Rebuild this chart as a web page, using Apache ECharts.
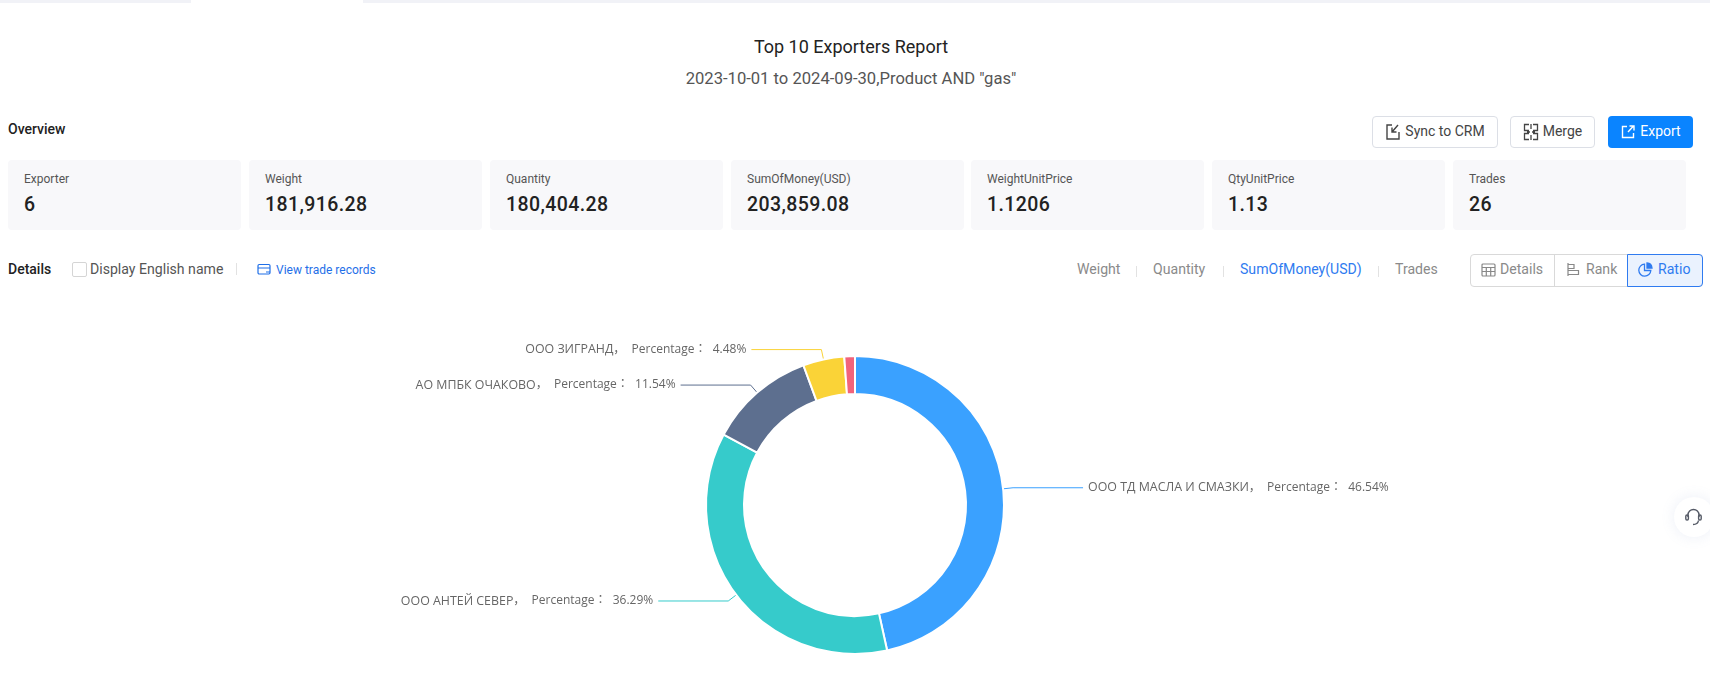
<!DOCTYPE html>
<html><head><meta charset="utf-8">
<script src="https://cdn.jsdelivr.net/npm/echarts@6/dist/echarts.min.js"></script>
<style>
html,body{margin:0;padding:0;background:#fff;width:1710px;height:676px;overflow:hidden;font-family:Roboto,sans-serif;color:#333}
.a{position:absolute;white-space:nowrap}
.v{transform:translateY(-50%)}
.card{position:absolute;top:160px;height:70px;width:233px;background:#f8f8fa;border-radius:4px}
.card .l{position:absolute;left:16px;top:11px;font-size:12px;color:#555;line-height:17px}
.card .n{position:absolute;left:16px;top:32px;font-size:19.5px;font-weight:500;color:#222;line-height:26px;letter-spacing:.4px}
.btn{position:absolute;top:116px;height:30px;border:1px solid #dcdfe6;border-radius:4px;background:#fff;font-size:14px;color:#444;display:flex;align-items:center;justify-content:center;gap:4px;box-sizing:content-box;line-height:14px;padding-bottom:0}
.btn span{position:relative;top:-1px}
.tab{font-size:14.1px;color:#8a8a8a}
.sep{position:absolute;width:1px;background:#e2e2e2}
svg{display:block}
</style></head><body>
<div class="a" style="left:0;top:0;width:1710px;height:2.5px;background:#f1f2f7"></div>
<div class="a" style="left:191px;top:0;width:172px;height:2.5px;background:#fff"></div>
<div class="a v" style="left:0;width:1702px;text-align:center;top:46px;font-size:18px;color:#222" id="ttl"></div>
<div class="a v" style="left:0;width:1702px;text-align:center;top:77.5px;font-size:16.6px;color:#555" id="sub"></div>
<div class="a v" style="left:8px;top:129px;font-size:14px;font-weight:500;color:#222">Overview</div>
<div id="cards"></div>
<div class="btn" style="left:1372px;width:124px"><svg width="16" height="18" viewBox="0 0 16 18" fill="none" stroke="#444" stroke-width="1.4"><path d="M7 2H2v14h12V9M7 9l6-7M7 4.500V9h4.500"/></svg><span>Sync to CRM</span></div>
<div class="btn" style="left:1510px;width:83px"><svg width="16" height="18" viewBox="0 0 16 18" fill="none" stroke="#444" stroke-width="1.3"><path d="M6 1.500H1.500v6H6M10 1.500h4.500v6H10M6 16.500H1.500v-6H6M10 16.500h4.500v-6H10M4 9h3M9 9h3M8 1v5M8 12v5"/></svg><span>Merge</span></div>
<div class="btn" style="left:1608px;width:85px;top:116px;height:32px;border:0;background:#0a84ff;color:#fff"><svg width="16" height="16" viewBox="0 0 16 16" fill="none" stroke="#fff" stroke-width="1.4"><path d="M7 2.500H2.500v11h11V9M8 8l5.500-6M9.500 2h4.500v4.500"/></svg><span>Export</span></div>

<div class="a v" style="left:8px;top:269px;font-size:14px;font-weight:500;color:#222">Details</div>
<div class="a" style="left:72px;top:262px;width:13px;height:13px;border:1px solid #d5d5d5;border-radius:2px"></div>
<div class="a v" style="left:90px;top:269px;font-size:14.100px;color:#555">Display English name</div>
<div class="sep" style="left:236px;top:263px;height:12px"></div>
<svg class="a" style="left:257px;top:263px" width="14" height="13" viewBox="0 0 14 13" fill="none" stroke="#1f6fe8" stroke-width="1.2"><rect x="1" y="1.500" width="12" height="9.500" rx="1.200"/><path d="M1 5h12M9 9h4"/></svg>
<div class="a v" style="left:276px;top:269.500px;font-size:12px;color:#1f6fe8">View trade records</div>

<div class="a v tab" style="left:1077px;top:269px">Weight</div>
<div class="sep" style="left:1136px;top:266px;height:11px"></div>
<div class="a v tab" style="left:1153px;top:269px">Quantity</div>
<div class="sep" style="left:1223px;top:266px;height:11px"></div>
<div class="a v tab" style="left:1240px;top:269px;color:#2f7bf0">SumOfMoney(USD)</div>
<div class="sep" style="left:1378px;top:266px;height:11px"></div>
<div class="a v tab" style="left:1395px;top:269px">Trades</div>

<div class="a" style="left:1470px;top:254px;width:231px;height:31px;border:1px solid #d9d9d9;border-radius:4px"></div>
<div class="a" style="left:1554px;top:254px;width:1px;height:33px;background:#d9d9d9"></div>
<div class="a" style="left:1627px;top:254px;width:74px;height:31px;border:1px solid #2f7bf0;border-radius:0 4px 4px 0;background:#eaf2fe"></div>
<svg class="a" style="left:1481px;top:263px" width="15" height="14" viewBox="0 0 15 14" fill="none" stroke="#888" stroke-width="1.200"><rect x="1" y="1" width="13" height="12" rx="1"/><path d="M1 4.500h13M1 8.500h13M5.300 4.500V13M9.700 4.500V13"/></svg>
<div class="a v tab" style="left:1500px;top:269px">Details</div>
<svg class="a" style="left:1566px;top:262px" width="14" height="15" viewBox="0 0 14 15" fill="none" stroke="#888" stroke-width="1.200"><path d="M2 1v13M2 2.500h6v4H2M2 8.500h10.500v4H2"/></svg>
<div class="a v tab" style="left:1586px;top:269px">Rank</div>
<svg class="a" style="left:1638px;top:262px" width="15" height="15" viewBox="0 0 15 15" fill="none" stroke="#2f7bf0" stroke-width="1.300"><path d="M6.500 2.200a6 6 0 1 0 6.300 6.300H6.500z"/><path d="M9 1a5.500 5.500 0 0 1 5 5H9z" fill="#2f7bf0"/></svg>
<div class="a v tab" style="left:1658px;top:269px;color:#2f7bf0">Ratio</div>

<div id="chart" class="a" style="left:0;top:290px;width:1710px;height:386px"></div>

<div class="a" style="left:1674px;top:497px;width:40px;height:40px;border-radius:50%;background:#fff;box-shadow:0 0 14px rgba(120,140,200,.14)"></div>
<svg class="a" style="left:1684px;top:508px" width="19" height="19" viewBox="0 0 19 19" fill="none" stroke="#555a66" stroke-width="1.400"><path d="M4 9V7a5.500 5.500 0 0 1 11 0v2M9 16.500c3 0 5-1 5.500-4"/><rect x="1.800" y="7" width="2.600" height="5" rx="1.200"/><rect x="14.600" y="7" width="2.600" height="5" rx="1.200"/></svg>

<script>
const titleText = 'Top 10 Exporters Report';
const subtitleText = '2023-10-01 to 2024-09-30,Product AND "gas"';
const statLabels = ['Exporter','Weight','Quantity','SumOfMoney(USD)','WeightUnitPrice','QtyUnitPrice','Trades'];
const statValues = ['6','181,916.28','180,404.28','203,859.08','1.1206','1.13','26'];
const statLefts = [8,249,490,731,971,1212,1453];
const exporters = ['ООО ТД МАСЛА И СМАЗКИ','ООО АНТЕЙ СЕВЕР','АО МПБК ОЧАКОВО','ООО ЗИГРАНД',''];
const shares = [46.54,36.29,11.54,4.48,1.15];
const sliceColors = ['#3aa1ff','#36cbcb','#5d6f8f','#fad337','#f2637b'];

document.getElementById('ttl').textContent = titleText;
document.getElementById('sub').textContent = subtitleText;
document.getElementById('cards').innerHTML = statLabels.map((l,i)=>
 `<div class="card" style="left:${statLefts[i]}px"><div class="l">${l}</div><div class="n">${statValues[i]}</div></div>`).join('');

const labelFont = '"Open Sans","Noto Sans CJK JP",sans-serif';
const chart = echarts.init(document.getElementById('chart'), null, {renderer:'canvas'});
chart.setOption({
  animation:false,
  color:sliceColors,
  series:[{
    type:'pie',
    center:[855,215],
    radius:[111,149],
    startAngle:90,
    percentPrecision:2,
    avoidLabelOverlap:false,
    itemStyle:{borderColor:'#fff',borderWidth:2},
    label:{
      show:true,
      fontFamily:labelFont,
      fontSize:12,
      color:'#666',
      formatter:p=>p.name ? `{n|${p.name}}{p|，  Percentage：  ${p.percent.toFixed(2)}%}` : '',
      rich:{
        n:{fontFamily:labelFont,fontSize:12.4,color:'#666'},
        p:{fontFamily:labelFont,fontSize:12,color:'#666'}
      }
    },
    labelLine:{show:true,length:10,length2:70,lineStyle:{width:1}},
    data:exporters.map((n,i)=>({name:n,value:shares[i],
      label:{show:!!n},labelLine:{show:!!n}}))
  }]
});
</script>
</body></html>
